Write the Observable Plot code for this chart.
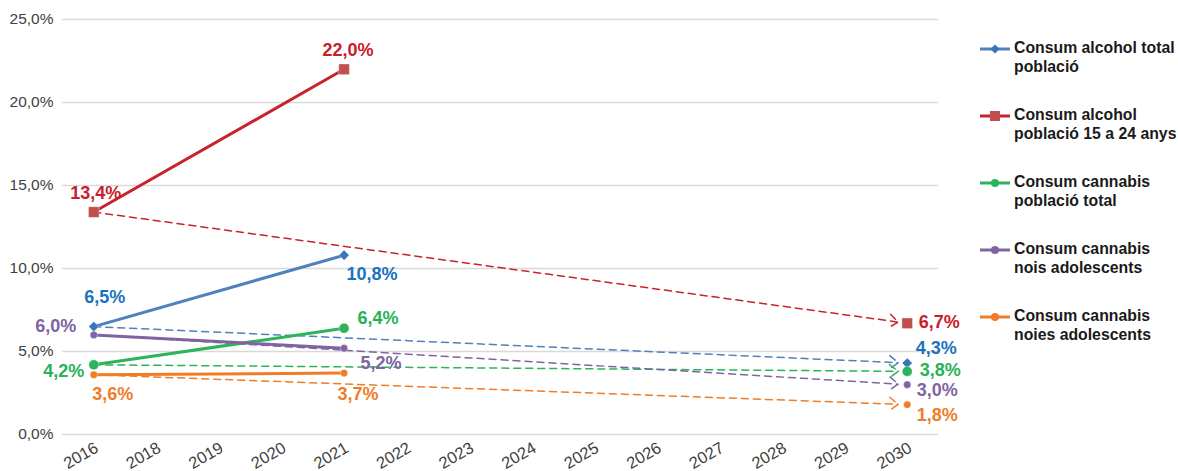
<!DOCTYPE html>
<html><head><meta charset="utf-8">
<script src="https://cdn.jsdelivr.net/npm/d3@7"></script>
<script src="https://cdn.jsdelivr.net/npm/@observablehq/plot@0.6"></script>
<style>
body{margin:0;background:#fff;font-family:"Liberation Sans",Arial,sans-serif;}
#wrap{position:relative;width:1178px;height:471px;}
#legend{position:absolute;left:980px;top:38px;}
.item{display:flex;align-items:flex-start;height:67px;}
.item svg{flex:none;margin-top:1px;}
.item span{font-weight:bold;font-size:15.8px;line-height:19px;color:#1a1a1a;margin-left:4px;white-space:nowrap;}
</style></head><body><div id="wrap"><div id="chart"></div><div id="legend"></div></div>
<script>
// ---- data ----
const years = ["2016","2018","2019","2020","2021","2022","2023","2024","2025","2026","2027","2028","2029","2030"];
const seriesKeys = ["alcTotal","alc1524","canTotal","canNois","canNoies"];
const seriesNames = [
  ["Consum alcohol total","població"],
  ["Consum alcohol","població 15 a 24 anys"],
  ["Consum cannabis","població total"],
  ["Consum cannabis","nois adolescents"],
  ["Consum cannabis","noies adolescents"]
];
const observedYears = ["2016","2021"];
const targetYear = "2030";
// values: [2016, 2021, 2030 target]
const alcTotal = [6.5, 10.8, 4.3];
const alc1524  = [13.4, 22.0, 6.7];
const canTotal = [4.2, 6.4, 3.8];
const canNois  = [6.0, 5.2, 3.0];
const canNoies = [3.6, 3.7, 1.8];
const yTicks = [0, 5, 10, 15, 20, 25];

// ---- styles / layout ----
const styles = {
  alcTotal: {line:"#4f81bd", mark:"#3a74ba", label:"#1b72bd", symbol:"diamond2", r:4.6},
  alc1524:  {line:"#c8232c", mark:"#c0504d", label:"#c8202a", symbol:"square", r:6},
  canTotal: {line:"#2bb459", mark:"#2bb459", label:"#27b255", symbol:"circle", r:5},
  canNois:  {line:"#8064a2", mark:"#8064a2", label:"#8064a2", symbol:"circle", r:3.7},
  canNoies: {line:"#f07c26", mark:"#f07c26", label:"#ef7d2b", symbol:"circle", r:3.7}
};
const labelOffsets = {
  "alcTotal-2016":[11,-29], "alcTotal-2021":[28,19], "alcTotal-2030":[29,-15],
  "alc1524-2016":[2,-19],   "alc1524-2021":[4,-19],  "alc1524-2030":[32,-1],
  "canTotal-2016":[-30,6],  "canTotal-2021":[34,-10],"canTotal-2030":[33,-1],
  "canNois-2016":[-38,-9],  "canNois-2021":[37,15],  "canNois-2030":[30,6],
  "canNoies-2016":[19,19],  "canNoies-2021":[14,21], "canNoies-2030":[30,11]
};

const valuesByKey = {alcTotal, alc1524, canTotal, canNois, canNoies};
const fmt = v => v.toFixed(1).replace(".", ",") + "%";

const marks = [];
marks.push(Plot.gridY(yTicks, {stroke:"#d9d9d9", strokeOpacity:1, strokeWidth:1.5}));
marks.push(Plot.axisY(yTicks, {tickSize:0, tickPadding:9, tickFormat:d => d.toFixed(1).replace(".", ",") + "%", fontSize:15.5, fill:"#404040"}));
marks.push(Plot.axisX({tickSize:0, tickRotate:-30, tickPadding:12, dx:3, fontSize:16.5, fill:"#404040"}));

// trend arrows (dashed)
for (const k of seriesKeys) {
  const v = valuesByKey[k];
  marks.push(Plot.arrow([{x1:observedYears[0], y1:v[0], x2:targetYear, y2:v[2]}], {
    x1:"x1", y1:"y1", x2:"x2", y2:"y2", stroke:styles[k].line, strokeWidth:1.5,
    strokeDasharray:"7,5", headLength:11, headAngle:75, insetEnd:9, ariaLabel:"trend"
  }));
}
// observed solid lines
for (const k of seriesKeys) {
  const v = valuesByKey[k];
  const rows = observedYears.map((y, i) => ({year:y, value:v[i]}));
  marks.push(Plot.line(rows, {x:"year", y:"value", stroke:styles[k].line, strokeWidth:3}));
}
// markers
for (const k of seriesKeys) {
  const v = valuesByKey[k];
  const rows = [...observedYears, targetYear].map((y, i) => ({year:y, value:v[i]}));
  marks.push(Plot.dot(rows, {x:"year", y:"value", symbol:styles[k].symbol, r:styles[k].r, fill:styles[k].mark, stroke:"white", strokeWidth:0.6, strokeOpacity:0.6}));
}
// labels
for (const k of seriesKeys) {
  const v = valuesByKey[k];
  [...observedYears, targetYear].forEach((y, i) => {
    const [dx, dy] = labelOffsets[k + "-" + y];
    marks.push(Plot.text([{year:y, value:v[i]}], {
      x:"year", y:"value", text:d => fmt(d.value), dx, dy,
      fill:styles[k].label, fontWeight:"bold", fontSize:18, textAnchor:"middle", lineAnchor:"middle"
    }));
  });
}

const chart = Plot.plot({
  width:1178, height:471,
  marginLeft:62, marginRight:240, marginTop:19, marginBottom:37,
  style:{fontFamily:"'Liberation Sans', Arial, sans-serif", background:"white"},
  x:{type:"point", domain:years, padding:0.5, round:false, label:null},
  y:{domain:[0,25], label:null},
  marks
});

// split arrow heads from dashed shafts so heads are solid
chart.querySelectorAll('g[aria-label="trend"] path').forEach(p => {
  const d = p.getAttribute("d");
  const idx = d.indexOf("M", 1);
  if (idx > 0) {
    p.setAttribute("d", d.slice(0, idx));
    const h = p.cloneNode();
    h.setAttribute("d", d.slice(idx));
    h.setAttribute("stroke-dasharray", "none");
    p.parentNode.appendChild(h);
  }
});
document.getElementById("chart").appendChild(chart);

// legend
const legend = document.getElementById("legend");
seriesKeys.forEach((k, i) => {
  const s = styles[k];
  const item = document.createElement("div");
  item.className = "item";
  let m;
  if (s.symbol === "square") m = `<rect x="10" y="5" width="10" height="10" fill="${s.mark}"/>`;
  else if (s.symbol === "diamond2") m = `<path d="M15,5.5L19.5,10L15,14.5L10.5,10Z" fill="${s.mark}"/>`;
  else m = `<circle cx="15" cy="10" r="4" fill="${s.mark}"/>`;
  item.innerHTML = `<svg width="30" height="20"><line x1="0" x2="30" y1="10" y2="10" stroke="${s.line}" stroke-width="3"/>${m}</svg><span>${seriesNames[i][0]}<br>${seriesNames[i][1]}</span>`;
  legend.appendChild(item);
});
</script>
</body></html>
